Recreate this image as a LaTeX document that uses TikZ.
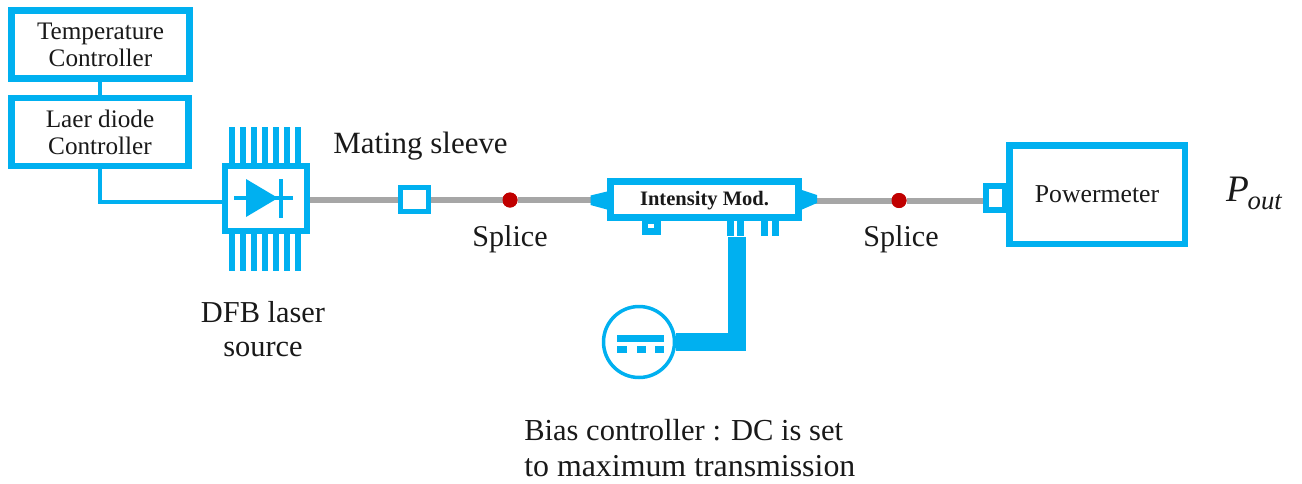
\documentclass[tikz,border=0pt]{standalone}
\usepackage{fontspec}
\setmainfont{Liberation Serif}
\definecolor{cy}{HTML}{00B0F0}
\definecolor{fibre}{HTML}{A6A6A6}
\definecolor{dot}{HTML}{C00000}
\tikzset{
  x=0.75pt,y=-0.75pt,
  px/.style={line width=#1*0.75pt},
  sized/.style 2 args={minimum width=#1*0.75pt,minimum height=#2*0.75pt},
  box/.style={draw=cy,fill=white,inner sep=0pt,align=center,text=black!90},
  ctl/.style={box,px=6.5,sized={178}{68},font=\fontsize{18.9}{20.3}\selectfont},
  label/.style={inner sep=0pt,text=black!90,align=center,font=\fontsize{22.6}{26}\selectfont},
  fibreline/.style={draw=fibre,px=6},
  link/.style={draw=cy,px=4},
  feed/.style={draw=cy,px=18},
  splice/.style={circle,fill=dot,draw=none,minimum size=15*0.75pt,inner sep=0pt,outer sep=0pt},
}
\begin{document}
\begin{tikzpicture}
\useasboundingbox (0,0) rectangle (1302,483);
\node[ctl] (temp) at (100.5,44.5) {Temperature\\Controller};
\node[ctl,sized={177}{68}] (ldc) at (100,132) {Laer diode\\Controller};
\draw[link] (temp.south -| ldc.south) -- (ldc.north);
% DFB fins
\foreach \fx in {232,243,254,265,276,287,298}{
  \fill[cy] (\fx-3.3,127) rectangle (\fx+3.3,164);
  \fill[cy] (\fx-3.3,233) rectangle (\fx+3.3,271);
}
\node[box,px=6,sized={82}{65}] (dfb) at (266,198.5) {};
\coordinate (bend) at (ldc.south |- 0,202);
\draw[link] (ldc.south) -- (bend) -- (bend -| dfb.west);
\fill[cy] (246,179) -- (278,198) -- (246,217) -- cycle;
\draw[cy,px=3.5] (234,198) -- (293,198);
\draw[cy,px=4] (281,179) -- (281,218);
% optical path
\node[box,px=7,sized={188}{36},font=\bfseries\fontsize{15.4}{18}\selectfont] (mod) at (704.5,199.5) {\raisebox{-4.2pt}[0pt][0pt]{Intensity Mod.}};
\node[box,px=6,sized={19}{24},anchor=east] (pmport) at (1008,198) {};
\node[box,px=6.5,sized={175.5}{98.5},font=\fontsize{19.3}{20}\selectfont] (pm) at (1097,194.5) {Powermeter};
\node[box,px=5,sized={28}{24}] (sleeve) at (414.5,199.5) {};
\node[splice] (s1) at (510,200) {};
\node[splice] (s2) at (899,200.5) {};
\draw[fibreline] (dfb.east |- 0,200) -- (sleeve.west |- 0,200);
\draw[fibreline] (sleeve.east |- 0,200) -- (s1);
\draw[fibreline] (s1) -- (mod.west |- s1);
\draw[fibreline] (mod.east |- s2) -- (s2);
\draw[fibreline] (s2) -- (pmport.west |- s2);
\fill[dot] (s1) circle (7.5);
\fill[dot] (s2) circle (7.5);
% modulator tapers
\fill[cy] (mod.west |- 0,191.5) -- (590.5,195.5) -- (590.5,205) -- (mod.west |- 0,209.5) -- cycle;
\fill[cy] (mod.east |- 0,190) -- (817,195) -- (817,203) -- (mod.east |- 0,209.5) -- cycle;
% modulator ports
\fill[cy] (642,221) rectangle (661,235);
\fill[white] (648,223.5) rectangle (653.5,227.5);
\foreach \fx in {727,737,761,772}{
  \fill[cy] (\fx,221) rectangle (\fx+7,236);
}
% bias controller
\node[circle,draw=cy,fill=white,px=3.5,minimum size=71*0.75pt,inner sep=0pt] (bias) at (639,342) {};
\coordinate (feedtop) at (737,237);
\draw[feed] (feedtop) -- (feedtop |- bias.east) -- (bias.east);
\fill[cy] (617,335) rectangle (664,342);
\foreach \fa/\fb in {617/627,637/646,655/664}{
  \fill[cy] (\fa,346) rectangle (\fb,353);
}
% labels
\node[label,font=\fontsize{23.2}{26}\selectfont] (lsleeve) at (420.5,146) {Mating sleeve};
\node[label] (ls1) at (510,239) {Splice};
\node[label] (ls2) at (901,239) {Splice};
\node[label,font=\fontsize{22.8}{25.5}\selectfont] (ldfb) at (263,329) {DFB laser\\source};
\node[label,align=left,anchor=north west,font=\fontsize{22.9}{26}\selectfont] (lbias) at (524,419) {Bias controller : DC is set\\[1pt]{\fontsize{23.9}{26}\selectfont to maximum transmission}};
\node[label] (lp) at (1254,193) {\fontsize{28}{30}\selectfont\itshape P\kern-1pt\raisebox{-6pt}{\fontsize{20}{22}\selectfont out}};
\end{tikzpicture}
\end{document}
